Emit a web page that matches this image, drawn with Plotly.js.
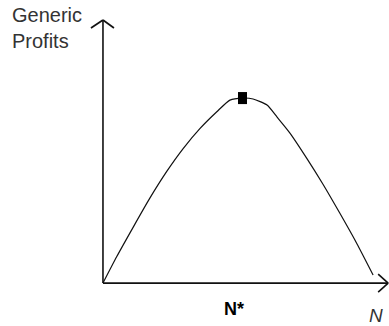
<!DOCTYPE html>
<html>
<head>
<meta charset="utf-8">
<script src="https://cdn.plot.ly/plotly-3.0.1.min.js"></script>
<style>
  html, body { margin: 0; padding: 0; background: #fff; }
  #chart { width: 389px; height: 326px; }
</style>
</head>
<body>
<div id="chart"></div>
<script>
// profit curve (N in arbitrary units, N* = 50, peak profit = 100)
const curveN      = [0, 4.9, 10.9, 16.8, 22.8, 28.8, 34.8, 40.8, 45.5, 50,
                     53.8, 58.8, 62.4, 67.0, 73.1, 78.9, 84.9, 91.0, 96.8];
const curveProfit = [0, 14.2, 30.4, 45.9, 60.2, 72.8, 83.6, 92.6, 98.9, 100,
                     99.5, 96.2, 89.7, 81.1, 67.3, 53.3, 37.7, 21.3, 4.4];

// optimum marker
const peakN      = [50];
const peakProfit = [100];

// axis ends (arrow tips)
const axisMaxN      = 102.2;
const axisMaxProfit = 142.2;

const FONT = 'Arial, "Liberation Sans", sans-serif';
const AXIS_COLOR = '#111';

const curveTrace = {
    x: curveN, y: curveProfit,
    mode: 'lines',
    line: { color: '#111', width: 1.2, shape: 'spline', smoothing: 0.6 },
    hoverinfo: 'skip'
};

// line-ns is drawn 1.4x its size, so 8.6 -> ~12px tall, 9px wide block
const peakTrace = {
    x: peakN, y: peakProfit,
    mode: 'markers',
    marker: { symbol: 'line-ns', size: 8.6, line: { color: '#000', width: 9 } },
    hoverinfo: 'skip'
};

// plain axis line in data coords
function axisLine(x0, y0, x1, y1) {
    return {
        type: 'line', xref: 'x', yref: 'y',
        x0, y0, x1, y1,
        line: { color: AXIS_COLOR, width: 1.6 }
    };
}

// one arm of an open arrow head, sized in pixels from the tip
function headArm(tipX, tipY, dx, dy) {
    return {
        type: 'line', xref: 'x', yref: 'y',
        xsizemode: 'pixel', ysizemode: 'pixel',
        xanchor: tipX, yanchor: tipY,
        x0: 0, y0: 0, x1: dx, y1: dy,
        line: { color: AXIS_COLOR, width: 1.6 }
    };
}

const layout = {
    width: 389, height: 326,
    margin: { l: 0, r: 0, t: 0, b: 0 },
    paper_bgcolor: '#fff', plot_bgcolor: '#fff',
    showlegend: false,
    xaxis: { range: [-36.9, 102.5], visible: false, fixedrange: true },
    yaxis: { range: [-23.2, 153.0], visible: false, fixedrange: true },
    shapes: [
        axisLine(0, 0, 0, axisMaxProfit),
        axisLine(0, 0, axisMaxN, 0),
        headArm(0, axisMaxProfit, -12, -8),
        headArm(0, axisMaxProfit, 11, -8),
        headArm(axisMaxN, 0, -10, 9),
        headArm(axisMaxN, 0, -10, -9)
    ],
    annotations: [
        {   // y axis label
            xref: 'paper', yref: 'paper', x: 0, y: 1,
            xanchor: 'left', yanchor: 'top', align: 'left',
            xshift: 10, yshift: -2,
            text: 'Generic<br>Profits', showarrow: false,
            font: { family: FONT, size: 20, color: '#333' }
        },
        {   // optimum label
            xref: 'x', yref: 'y', x: peakN[0], y: 0,
            xanchor: 'center', yanchor: 'top', xshift: -9, yshift: -14,
            text: '<b>N*</b>', showarrow: false,
            font: { family: FONT, size: 18, color: '#000' }
        },
        {   // x axis label
            xref: 'x', yref: 'y', x: axisMaxN, y: 0,
            xanchor: 'center', yanchor: 'top', xshift: -12, yshift: -20,
            text: '<i>N</i>', showarrow: false,
            font: { family: FONT, size: 19, color: '#333' }
        }
    ]
};

Plotly.newPlot('chart', [curveTrace, peakTrace], layout, { displayModeBar: false, staticPlot: true });
</script>
</body>
</html>
